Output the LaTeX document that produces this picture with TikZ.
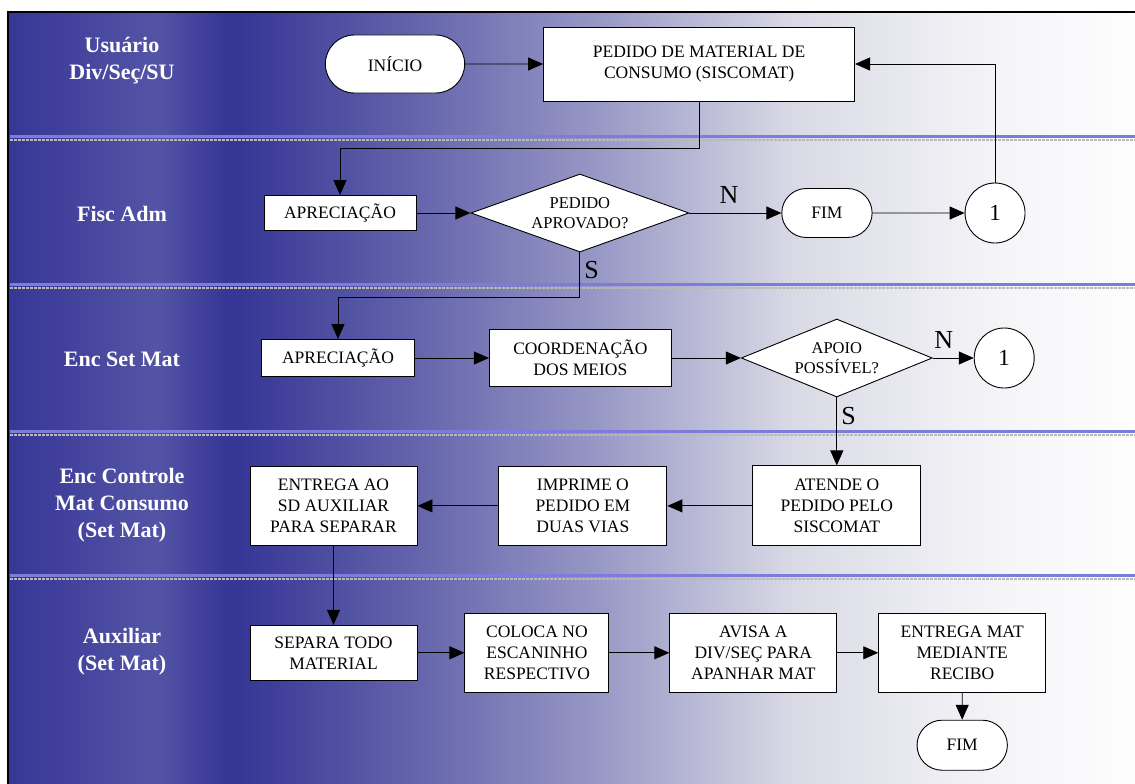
\documentclass[tikz,border=0pt]{standalone}
\usepackage{fontspec}
\setmainfont{Liberation Serif}
\usepackage{tikz}
\usetikzlibrary{arrows.meta,positioning,shapes.misc,shapes.geometric}
\newcommand{\boxfont}{\fontsize{17.5}{21}\selectfont}
\newcommand{\decfont}{\fontsize{16.5}{20}\selectfont}
\newcommand{\numfont}{\fontsize{23}{24}\selectfont}
\newcommand{\lanefont}{\fontsize{22}{27}\selectfont\bfseries}
\newcommand{\branchfont}{\fontsize{26}{28}\selectfont}
\definecolor{laneDark}{RGB}{54,54,150}
\definecolor{laneLight}{RGB}{84,84,166}
\definecolor{fieldA}{RGB}{96,96,170}
\definecolor{fieldB}{RGB}{152,152,198}
\definecolor{fieldC}{RGB}{218,218,230}
\definecolor{fieldD}{RGB}{245,245,248}
\definecolor{fieldE}{RGB}{253,253,254}
\definecolor{laneRule}{RGB}{124,124,220}
\pgfdeclarehorizontalshading{bandshade}{100bp}{color(0bp)=(laneDark); color(25bp)=(laneDark); color(57bp)=(laneLight); color(72bp)=(laneDark); color(100bp)=(laneDark)}
\pgfdeclarehorizontalshading{fieldshade}{100bp}{color(0bp)=(laneDark); color(25bp)=(laneDark); color(34bp)=(fieldA); color(45bp)=(fieldB); color(56bp)=(fieldC); color(67.5bp)=(fieldD); color(75bp)=(fieldE); color(100bp)=(fieldE)}

\begin{document}
\begin{tikzpicture}[
    x=1pt, y=-1pt,
    >={Triangle[length=15pt,width=13pt]},
    line width=0.9pt,
    process/.style={draw, fill=white, align=center, font=\boxfont, inner sep=2pt},
    terminal/.style={rounded rectangle, draw, fill=white, font=\boxfont},
    decision/.style={diamond, draw, fill=white, align=center, font=\decfont, inner sep=0pt, aspect=2.5},
    connector/.style={circle, draw, fill=white, minimum size=60pt, inner sep=0pt, font=\numfont},
    lane_label/.style={white, font=\lanefont, align=center},
    branch_label/.style={font=\branchfont, inner sep=4pt},
    flow/.style={->}
]
\useasboundingbox (0,0) rectangle (1135,784);

% --- LANES ---
\shade[shading=bandshade] (8,12) rectangle (240,784);
\shade[shading=fieldshade] (240,12) rectangle (1135,784);
\foreach \y in {136,284,431,575} {
    \draw[line width=3pt, laneRule] (10,\y) -- (1135,\y);
    \draw[line width=2pt, gray!55, dash pattern=on 3pt off 1pt] (10,\y+3.5) -- (1135,\y+3.5);
}
\draw[line width=1.5pt] (1135,12) -- (8,12) -- (8,784);

\node[lane_label] (lane_usr) at (122,61) {Usuário\\Div/Seç/SU};
\node[lane_label] (lane_fisc) at (122,214) {Fisc Adm};
\node[lane_label] (lane_enc) at (122,359) {Enc Set Mat};
\node[lane_label] (lane_ctrl) at (122,505) {Enc Controle\\Mat Consumo\\(Set Mat)};
\node[lane_label] (lane_aux) at (122,652) {Auxiliar\\(Set Mat)};

% --- NODES ---
\node[terminal, minimum width=146pt, minimum height=58pt] (inicio) at (395,64) {INÍCIO};
\node[process, minimum width=311pt, minimum height=74pt, right=78pt of inicio] (pedido) {PEDIDO DE MATERIAL DE\\CONSUMO (SISCOMAT)};

\node[process, minimum width=152pt, minimum height=35pt] (aprec_fisc) at (340,213) {APRECIAÇÃO};
\node[decision, minimum width=218pt, minimum height=78pt, right=54pt of aprec_fisc] (aprovado) {PEDIDO\\APROVADO?};
\node[terminal, minimum width=97pt, minimum height=49pt, right=92pt of aprovado] (fim_fisc) {FIM};
\node[connector, right=92pt of fim_fisc] (con_fisc) {1};

\node[process, minimum width=153pt, minimum height=37pt] (aprec_enc) at (338,358) {APRECIAÇÃO};
\node[process, minimum width=182pt, minimum height=57pt, right=74pt of aprec_enc] (coord) {COORDENAÇÃO\\DOS MEIOS};
\node[decision, minimum width=191pt, minimum height=78pt, right=69pt of coord] (apoio) {APOIO\\POSSÍVEL?};
\node[connector, right=41pt of apoio] (con_enc) {1};

\node[process, minimum width=168pt, minimum height=80pt, below=68pt of apoio] (atende) {ATENDE O\\PEDIDO PELO\\SISCOMAT};
\node[process, minimum width=168pt, minimum height=79pt, left=85pt of atende] (imprime) {IMPRIME O\\PEDIDO EM\\DUAS VIAS};
\node[process, minimum width=167pt, minimum height=79pt, left=81pt of imprime] (entrega) {ENTREGA AO\\SD AUXILIAR\\PARA SEPARAR};

\node[process, minimum width=167pt, minimum height=55pt, below=79pt of entrega] (separa) {SEPARA TODO\\MATERIAL};
\node[process, minimum width=144pt, minimum height=79pt, right=47pt of separa] (coloca) {COLOCA NO\\ESCANINHO\\RESPECTIVO};
\node[process, minimum width=167pt, minimum height=79pt, right=60pt of coloca] (avisa) {AVISA A\\DIV/SEÇ PARA\\APANHAR MAT};
\node[process, minimum width=167pt, minimum height=79pt, right=41pt of avisa] (recibo) {ENTREGA MAT\\MEDIANTE\\RECIBO};
\node[terminal, minimum width=97pt, minimum height=50pt, below=27pt of recibo] (fim_aux) {FIM};

% --- EDGES ---
\draw[flow] (inicio) -- (pedido);
\draw[flow] (pedido.south) -- ++(0,47) -| (aprec_fisc.north);

\draw[flow] (aprovado) -- node[branch_label, above=5pt, pos=0.43] {N} (fim_fisc);
\draw[flow] (aprec_fisc) -- (aprovado);
\draw[flow] (fim_fisc) -- (con_fisc);
\draw[flow] (con_fisc.north) |- (pedido.east);
\draw[flow] (aprovado.south) -- node[branch_label, right, pos=0.4] {S} ++(0,45) -| (aprec_enc.north);

\draw[flow] (aprec_enc) -- (coord);
\draw[flow] (coord) -- (apoio);
\draw[flow] (apoio) -- node[branch_label, above=5pt, pos=0.27] {N} (con_enc);
\draw[flow] (apoio) -- node[branch_label, right, pos=0.28] {S} (atende);

% lower lanes run right to left, then back again
\draw[flow] (atende) -- (imprime);
\draw[flow] (imprime) -- (entrega);
\draw[flow] (entrega) -- (separa);
\draw[flow] (separa) -- (coloca);
\draw[flow] (coloca) -- (avisa);
\draw[flow] (avisa) -- (recibo);
\draw[flow] (recibo) -- (fim_aux);

\end{tikzpicture}
\end{document}
